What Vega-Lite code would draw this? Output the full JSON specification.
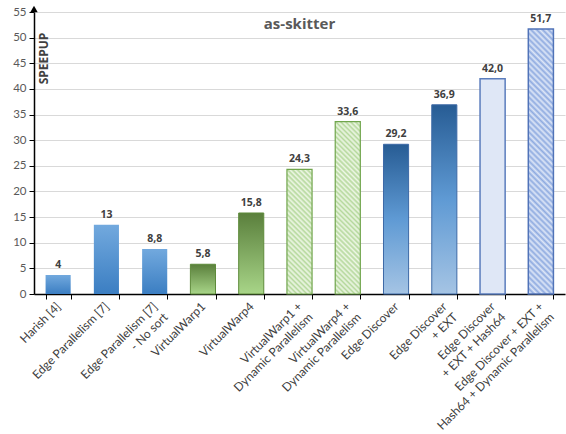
{
  "$schema": "https://vega.github.io/schema/vega-lite/v6.json",
  "width": 531,
  "height": 282,
  "autosize": "none",
  "padding": {"left": 34, "top": 12, "right": 1, "bottom": 140},
  "background": "white",
  "config": {
    "font": "Lato",
    "view": {"stroke": null},
    "axis": {"labelFont": "Lato"}
  },
  "title": {
    "text": "as-skitter",
    "fontSize": 15,
    "fontWeight": "bold",
    "color": "#595959",
    "font": "Open Sans",
    "anchor": "middle",
    "offset": -26
  },
  "data": {
    "values": [
      {"cat": "Harish [4]", "value": 3.7, "label": "4", "g": "A"},
      {"cat": "Edge Parallelism [7]", "value": 13.5, "label": "13", "g": "A"},
      {"cat": "Edge Parallelism [7]|- No sort", "value": 8.8, "label": "8,8", "g": "A"},
      {"cat": "VirtualWarp1", "value": 5.8, "label": "5,8", "g": "B"},
      {"cat": "VirtualWarp4", "value": 15.8, "label": "15,8", "g": "B"},
      {"cat": "VirtualWarp1 +|Dynamic Parallelism", "value": 24.3, "label": "24,3", "g": "C1"},
      {"cat": "VirtualWarp4 +|Dynamic Parallelism", "value": 33.6, "label": "33,6", "g": "C2"},
      {"cat": "Edge Discover", "value": 29.2, "label": "29,2", "g": "D"},
      {"cat": "Edge Discover|+ EXT", "value": 36.9, "label": "36,9", "g": "D"},
      {"cat": "Edge Discover|+ EXT + Hash64", "value": 42.0, "label": "42,0", "g": "E"},
      {"cat": "Edge Discover + EXT +|Hash64 + Dynamic Parallelism", "value": 51.7, "label": "51,7", "g": "F"}
    ]
  },
  "encoding": {
    "x": {
      "field": "cat",
      "type": "nominal",
      "sort": null,
      "scale": {"paddingInner": 0.48, "paddingOuter": 0.24},
      "axis": {
        "title": null,
        "labelAngle": -45,
        "labelAlign": "right",
        "labelBaseline": "middle",
        "labelExpr": "indexof(datum.label, '|') < 0 ? datum.label : [pad(split(datum.label, '|')[0], length(split(datum.label, '|')[0]) + 2.4 * (max(length(split(datum.label, '|')[0]), length(split(datum.label, '|')[1])) - length(split(datum.label, '|')[0])), '\u00a0', 'center'), pad(split(datum.label, '|')[1], length(split(datum.label, '|')[1]) + 2.4 * (max(length(split(datum.label, '|')[0]), length(split(datum.label, '|')[1])) - length(split(datum.label, '|')[1])), '\u00a0', 'center')]",
        "labelFontSize": 12,
        "labelLineHeight": 15,
        "labelColor": "#404040",
        "labelPadding": 5,
        "labelDx": 4,
        "labelDy": 4,
        "labelLimit": 400,
        "domainColor": "#000000",
        "domainWidth": 1.5,
        "tickColor": "#000000",
        "tickSize": 5,
        "tickBand": "extent",
        "grid": false
      }
    },
    "y": {
      "field": "value",
      "type": "quantitative",
      "scale": {"domain": [0, 55], "nice": false},
      "axis": {
        "title": "SPEEPUP",
        "titleX": 16,
        "titleY": 46,
        "titleAngle": -90,
        "titleAlign": "center",
        "titleBaseline": "bottom",
        "titleFontSize": 12,
        "titleFont": "Open Sans",
        "titleFontWeight": "bold",
        "titleColor": "#404040",
        "values": [0, 5, 10, 15, 20, 25, 30, 35, 40, 45, 50, 55],
        "labelColor": "#595959",
        "labelFontSize": 11.5,
        "labelPadding": 3,
        "domainColor": "#000000",
        "domainWidth": 1.5,
        "tickColor": "#000000",
        "tickSize": 5,
        "gridColor": "#d9d9d9",
        "gridWidth": 1
      }
    }
  },
  "layer": [
    {
      "transform": [{"filter": "datum.g === 'A'"}],
      "mark": {
        "type": "bar",
        "color": {"gradient": "linear", "x1": 0, "y1": 0, "x2": 0, "y2": 1,
          "stops": [{"offset": 0, "color": "#72a9de"}, {"offset": 1, "color": "#3b7ec2"}]}
      }
    },
    {
      "transform": [{"filter": "datum.g === 'B'"}],
      "mark": {
        "type": "bar",
        "stroke": "#5e8b3b",
        "strokeWidth": 1,
        "color": {"gradient": "linear", "x1": 0, "y1": 0, "x2": 0, "y2": 1,
          "stops": [{"offset": 0, "color": "#5a7f3c"}, {"offset": 1, "color": "#a8d588"}]}
      }
    },
    {
      "transform": [{"filter": "datum.g === 'C1'"}],
      "mark": {"type": "bar", "stroke": "#70a54c", "strokeWidth": 1.2,
        "fill": {"gradient": "linear", "x1": 0, "y1": 1, "x2": 0.2325, "y2": -0.1546,
          "stops": [
            {"offset": 0, "color": "#b5d89c"}, {"offset": 0.0167, "color": "#eef7e6"}, {"offset": 0.0333, "color": "#b5d89c"}, {"offset": 0.05, "color": "#eef7e6"},
            {"offset": 0.0667, "color": "#b5d89c"}, {"offset": 0.0833, "color": "#eef7e6"}, {"offset": 0.1, "color": "#b5d89c"}, {"offset": 0.1167, "color": "#eef7e6"},
            {"offset": 0.1333, "color": "#b5d89c"}, {"offset": 0.15, "color": "#eef7e6"}, {"offset": 0.1667, "color": "#b5d89c"}, {"offset": 0.1833, "color": "#eef7e6"},
            {"offset": 0.2, "color": "#b5d89c"}, {"offset": 0.2167, "color": "#eef7e6"}, {"offset": 0.2333, "color": "#b5d89c"}, {"offset": 0.25, "color": "#eef7e6"},
            {"offset": 0.2667, "color": "#b5d89c"}, {"offset": 0.2833, "color": "#eef7e6"}, {"offset": 0.3, "color": "#b5d89c"}, {"offset": 0.3167, "color": "#eef7e6"},
            {"offset": 0.3333, "color": "#b5d89c"}, {"offset": 0.35, "color": "#eef7e6"}, {"offset": 0.3667, "color": "#b5d89c"}, {"offset": 0.3833, "color": "#eef7e6"},
            {"offset": 0.4, "color": "#b5d89c"}, {"offset": 0.4167, "color": "#eef7e6"}, {"offset": 0.4333, "color": "#b5d89c"}, {"offset": 0.45, "color": "#eef7e6"},
            {"offset": 0.4667, "color": "#b5d89c"}, {"offset": 0.4833, "color": "#eef7e6"}, {"offset": 0.5, "color": "#b5d89c"}, {"offset": 0.5167, "color": "#eef7e6"},
            {"offset": 0.5333, "color": "#b5d89c"}, {"offset": 0.55, "color": "#eef7e6"}, {"offset": 0.5667, "color": "#b5d89c"}, {"offset": 0.5833, "color": "#eef7e6"},
            {"offset": 0.6, "color": "#b5d89c"}, {"offset": 0.6167, "color": "#eef7e6"}, {"offset": 0.6333, "color": "#b5d89c"}, {"offset": 0.65, "color": "#eef7e6"},
            {"offset": 0.6667, "color": "#b5d89c"}, {"offset": 0.6833, "color": "#eef7e6"}, {"offset": 0.7, "color": "#b5d89c"}, {"offset": 0.7167, "color": "#eef7e6"},
            {"offset": 0.7333, "color": "#b5d89c"}, {"offset": 0.75, "color": "#eef7e6"}, {"offset": 0.7667, "color": "#b5d89c"}, {"offset": 0.7833, "color": "#eef7e6"},
            {"offset": 0.8, "color": "#b5d89c"}, {"offset": 0.8167, "color": "#eef7e6"}, {"offset": 0.8333, "color": "#b5d89c"}, {"offset": 0.85, "color": "#eef7e6"},
            {"offset": 0.8667, "color": "#b5d89c"}, {"offset": 0.8833, "color": "#eef7e6"}, {"offset": 0.9, "color": "#b5d89c"}, {"offset": 0.9167, "color": "#eef7e6"},
            {"offset": 0.9333, "color": "#b5d89c"}, {"offset": 0.95, "color": "#eef7e6"}, {"offset": 0.9667, "color": "#b5d89c"}, {"offset": 0.9833, "color": "#eef7e6"},
            {"offset": 1, "color": "#b5d89c"}
          ]}
      }
    },
    {
      "transform": [{"filter": "datum.g === 'C2'"}],
      "mark": {"type": "bar", "stroke": "#70a54c", "strokeWidth": 1.2,
        "fill": {"gradient": "linear", "x1": 0, "y1": 1, "x2": 0.1634, "y2": -0.1219,
          "stops": [
            {"offset": 0, "color": "#b5d89c"}, {"offset": 0.0125, "color": "#eef7e6"}, {"offset": 0.025, "color": "#b5d89c"}, {"offset": 0.0375, "color": "#eef7e6"},
            {"offset": 0.05, "color": "#b5d89c"}, {"offset": 0.0625, "color": "#eef7e6"}, {"offset": 0.075, "color": "#b5d89c"}, {"offset": 0.0875, "color": "#eef7e6"},
            {"offset": 0.1, "color": "#b5d89c"}, {"offset": 0.1125, "color": "#eef7e6"}, {"offset": 0.125, "color": "#b5d89c"}, {"offset": 0.1375, "color": "#eef7e6"},
            {"offset": 0.15, "color": "#b5d89c"}, {"offset": 0.1625, "color": "#eef7e6"}, {"offset": 0.175, "color": "#b5d89c"}, {"offset": 0.1875, "color": "#eef7e6"},
            {"offset": 0.2, "color": "#b5d89c"}, {"offset": 0.2125, "color": "#eef7e6"}, {"offset": 0.225, "color": "#b5d89c"}, {"offset": 0.2375, "color": "#eef7e6"},
            {"offset": 0.25, "color": "#b5d89c"}, {"offset": 0.2625, "color": "#eef7e6"}, {"offset": 0.275, "color": "#b5d89c"}, {"offset": 0.2875, "color": "#eef7e6"},
            {"offset": 0.3, "color": "#b5d89c"}, {"offset": 0.3125, "color": "#eef7e6"}, {"offset": 0.325, "color": "#b5d89c"}, {"offset": 0.3375, "color": "#eef7e6"},
            {"offset": 0.35, "color": "#b5d89c"}, {"offset": 0.3625, "color": "#eef7e6"}, {"offset": 0.375, "color": "#b5d89c"}, {"offset": 0.3875, "color": "#eef7e6"},
            {"offset": 0.4, "color": "#b5d89c"}, {"offset": 0.4125, "color": "#eef7e6"}, {"offset": 0.425, "color": "#b5d89c"}, {"offset": 0.4375, "color": "#eef7e6"},
            {"offset": 0.45, "color": "#b5d89c"}, {"offset": 0.4625, "color": "#eef7e6"}, {"offset": 0.475, "color": "#b5d89c"}, {"offset": 0.4875, "color": "#eef7e6"},
            {"offset": 0.5, "color": "#b5d89c"}, {"offset": 0.5125, "color": "#eef7e6"}, {"offset": 0.525, "color": "#b5d89c"}, {"offset": 0.5375, "color": "#eef7e6"},
            {"offset": 0.55, "color": "#b5d89c"}, {"offset": 0.5625, "color": "#eef7e6"}, {"offset": 0.575, "color": "#b5d89c"}, {"offset": 0.5875, "color": "#eef7e6"},
            {"offset": 0.6, "color": "#b5d89c"}, {"offset": 0.6125, "color": "#eef7e6"}, {"offset": 0.625, "color": "#b5d89c"}, {"offset": 0.6375, "color": "#eef7e6"},
            {"offset": 0.65, "color": "#b5d89c"}, {"offset": 0.6625, "color": "#eef7e6"}, {"offset": 0.675, "color": "#b5d89c"}, {"offset": 0.6875, "color": "#eef7e6"},
            {"offset": 0.7, "color": "#b5d89c"}, {"offset": 0.7125, "color": "#eef7e6"}, {"offset": 0.725, "color": "#b5d89c"}, {"offset": 0.7375, "color": "#eef7e6"},
            {"offset": 0.75, "color": "#b5d89c"}, {"offset": 0.7625, "color": "#eef7e6"}, {"offset": 0.775, "color": "#b5d89c"}, {"offset": 0.7875, "color": "#eef7e6"},
            {"offset": 0.8, "color": "#b5d89c"}, {"offset": 0.8125, "color": "#eef7e6"}, {"offset": 0.825, "color": "#b5d89c"}, {"offset": 0.8375, "color": "#eef7e6"},
            {"offset": 0.85, "color": "#b5d89c"}, {"offset": 0.8625, "color": "#eef7e6"}, {"offset": 0.875, "color": "#b5d89c"}, {"offset": 0.8875, "color": "#eef7e6"},
            {"offset": 0.9, "color": "#b5d89c"}, {"offset": 0.9125, "color": "#eef7e6"}, {"offset": 0.925, "color": "#b5d89c"}, {"offset": 0.9375, "color": "#eef7e6"},
            {"offset": 0.95, "color": "#b5d89c"}, {"offset": 0.9625, "color": "#eef7e6"}, {"offset": 0.975, "color": "#b5d89c"}, {"offset": 0.9875, "color": "#eef7e6"},
            {"offset": 1, "color": "#b5d89c"}
          ]}
      }
    },
    {
      "transform": [{"filter": "datum.g === 'D'"}],
      "mark": {
        "type": "bar",
        "stroke": "#3d69a6",
        "strokeWidth": 1,
        "color": {"gradient": "linear", "x1": 0, "y1": 0, "x2": 0, "y2": 1,
          "stops": [{"offset": 0, "color": "#275c94"}, {"offset": 0.5, "color": "#5f9ad4"}, {"offset": 1, "color": "#a5c4e4"}]}
      }
    },
    {
      "transform": [{"filter": "datum.g === 'E'"}],
      "mark": {"type": "bar", "fill": "#dfe7f6", "stroke": "#5b7dbd", "strokeWidth": 1.5}
    },
    {
      "transform": [{"filter": "datum.g === 'F'"}],
      "mark": {"type": "bar", "stroke": "#5073b8", "strokeWidth": 1.5,
        "fill": {"gradient": "linear", "x1": 0, "y1": 1, "x2": 0.1027, "y2": -0.085,
          "stops": [
            {"offset": 0, "color": "#8fabe0"}, {"offset": 0.01, "color": "#dde6f7"}, {"offset": 0.02, "color": "#8fabe0"}, {"offset": 0.03, "color": "#dde6f7"},
            {"offset": 0.04, "color": "#8fabe0"}, {"offset": 0.05, "color": "#dde6f7"}, {"offset": 0.06, "color": "#8fabe0"}, {"offset": 0.07, "color": "#dde6f7"},
            {"offset": 0.08, "color": "#8fabe0"}, {"offset": 0.09, "color": "#dde6f7"}, {"offset": 0.1, "color": "#8fabe0"}, {"offset": 0.11, "color": "#dde6f7"},
            {"offset": 0.12, "color": "#8fabe0"}, {"offset": 0.13, "color": "#dde6f7"}, {"offset": 0.14, "color": "#8fabe0"}, {"offset": 0.15, "color": "#dde6f7"},
            {"offset": 0.16, "color": "#8fabe0"}, {"offset": 0.17, "color": "#dde6f7"}, {"offset": 0.18, "color": "#8fabe0"}, {"offset": 0.19, "color": "#dde6f7"},
            {"offset": 0.2, "color": "#8fabe0"}, {"offset": 0.21, "color": "#dde6f7"}, {"offset": 0.22, "color": "#8fabe0"}, {"offset": 0.23, "color": "#dde6f7"},
            {"offset": 0.24, "color": "#8fabe0"}, {"offset": 0.25, "color": "#dde6f7"}, {"offset": 0.26, "color": "#8fabe0"}, {"offset": 0.27, "color": "#dde6f7"},
            {"offset": 0.28, "color": "#8fabe0"}, {"offset": 0.29, "color": "#dde6f7"}, {"offset": 0.3, "color": "#8fabe0"}, {"offset": 0.31, "color": "#dde6f7"},
            {"offset": 0.32, "color": "#8fabe0"}, {"offset": 0.33, "color": "#dde6f7"}, {"offset": 0.34, "color": "#8fabe0"}, {"offset": 0.35, "color": "#dde6f7"},
            {"offset": 0.36, "color": "#8fabe0"}, {"offset": 0.37, "color": "#dde6f7"}, {"offset": 0.38, "color": "#8fabe0"}, {"offset": 0.39, "color": "#dde6f7"},
            {"offset": 0.4, "color": "#8fabe0"}, {"offset": 0.41, "color": "#dde6f7"}, {"offset": 0.42, "color": "#8fabe0"}, {"offset": 0.43, "color": "#dde6f7"},
            {"offset": 0.44, "color": "#8fabe0"}, {"offset": 0.45, "color": "#dde6f7"}, {"offset": 0.46, "color": "#8fabe0"}, {"offset": 0.47, "color": "#dde6f7"},
            {"offset": 0.48, "color": "#8fabe0"}, {"offset": 0.49, "color": "#dde6f7"}, {"offset": 0.5, "color": "#8fabe0"}, {"offset": 0.51, "color": "#dde6f7"},
            {"offset": 0.52, "color": "#8fabe0"}, {"offset": 0.53, "color": "#dde6f7"}, {"offset": 0.54, "color": "#8fabe0"}, {"offset": 0.55, "color": "#dde6f7"},
            {"offset": 0.56, "color": "#8fabe0"}, {"offset": 0.57, "color": "#dde6f7"}, {"offset": 0.58, "color": "#8fabe0"}, {"offset": 0.59, "color": "#dde6f7"},
            {"offset": 0.6, "color": "#8fabe0"}, {"offset": 0.61, "color": "#dde6f7"}, {"offset": 0.62, "color": "#8fabe0"}, {"offset": 0.63, "color": "#dde6f7"},
            {"offset": 0.64, "color": "#8fabe0"}, {"offset": 0.65, "color": "#dde6f7"}, {"offset": 0.66, "color": "#8fabe0"}, {"offset": 0.67, "color": "#dde6f7"},
            {"offset": 0.68, "color": "#8fabe0"}, {"offset": 0.69, "color": "#dde6f7"}, {"offset": 0.7, "color": "#8fabe0"}, {"offset": 0.71, "color": "#dde6f7"},
            {"offset": 0.72, "color": "#8fabe0"}, {"offset": 0.73, "color": "#dde6f7"}, {"offset": 0.74, "color": "#8fabe0"}, {"offset": 0.75, "color": "#dde6f7"},
            {"offset": 0.76, "color": "#8fabe0"}, {"offset": 0.77, "color": "#dde6f7"}, {"offset": 0.78, "color": "#8fabe0"}, {"offset": 0.79, "color": "#dde6f7"},
            {"offset": 0.8, "color": "#8fabe0"}, {"offset": 0.81, "color": "#dde6f7"}, {"offset": 0.82, "color": "#8fabe0"}, {"offset": 0.83, "color": "#dde6f7"},
            {"offset": 0.84, "color": "#8fabe0"}, {"offset": 0.85, "color": "#dde6f7"}, {"offset": 0.86, "color": "#8fabe0"}, {"offset": 0.87, "color": "#dde6f7"},
            {"offset": 0.88, "color": "#8fabe0"}, {"offset": 0.89, "color": "#dde6f7"}, {"offset": 0.9, "color": "#8fabe0"}, {"offset": 0.91, "color": "#dde6f7"},
            {"offset": 0.92, "color": "#8fabe0"}, {"offset": 0.93, "color": "#dde6f7"}, {"offset": 0.94, "color": "#8fabe0"}, {"offset": 0.95, "color": "#dde6f7"},
            {"offset": 0.96, "color": "#8fabe0"}, {"offset": 0.97, "color": "#dde6f7"}, {"offset": 0.98, "color": "#8fabe0"}, {"offset": 0.99, "color": "#dde6f7"},
            {"offset": 1, "color": "#8fabe0"}
          ]}
      }
    },
    {
      "mark": {"type": "text", "baseline": "bottom", "dy": -5, "fontSize": 10.5, "fontWeight": "bold", "color": "#404040", "font": "Open Sans"},
      "encoding": {"text": {"field": "label"}}
    },
    {
      "data": {"values": [{"top": 55.6}]},
      "mark": {"type": "point", "shape": "triangle-up", "filled": true, "color": "#000000", "size": 55, "opacity": 1},
      "encoding": {
        "x": {"value": 0},
        "y": {"field": "top", "type": "quantitative"}
      }
    }
  ]
}
